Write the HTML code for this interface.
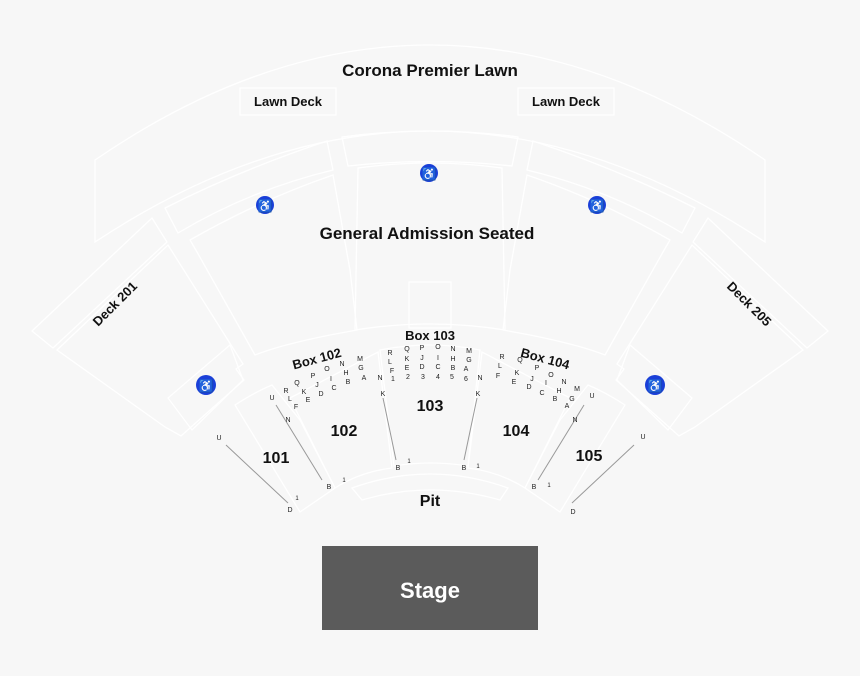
<!DOCTYPE html>
<html><head><meta charset="utf-8"><style>
html,body{margin:0;padding:0;background:#f7f7f7;}
svg{display:block;font-family:"Liberation Sans",sans-serif;}
.b{font-weight:bold;fill:#111;}
.s{font-size:7px;fill:#222;text-anchor:middle;}
.o{fill:none;stroke:#fff;stroke-width:1.3;}
</style></head><body>
<svg width="860" height="676" viewBox="0 0 860 676">
<rect width="860" height="676" fill="#f7f7f7"/>
<g class="o">
<path d="M95,160 Q430,-70 765,160 L765,242 Q430,20 95,242 Z"/>
<rect x="240" y="88" width="96" height="27"/>
<rect x="518" y="88" width="96" height="27"/>
<path d="M165,208 Q240,170 327,141 L333,170 Q250,190 178,233 Z"/>
<path d="M342,137 Q430,125 518,137 L512,166 Q430,157 348,166 Z"/>
<path d="M695,208 Q620,170 533,141 L527,170 Q610,190 682,233 Z"/>
<path d="M190,240 Q260,200 333,175 L350,270 L357,330 L330,335 Q280,345 255,355 L197,252 Z"/>
<path d="M358,168 Q430,158 502,168 L505,330 Q430,318 355,330 Z"/>
<path d="M670,240 Q600,200 527,175 L510,270 L503,330 L530,335 Q580,345 605,355 L663,252 Z"/>
<rect x="409" y="282" width="42" height="46"/>
<path d="M32,331 L152,218 L167,242 L53,348 Z"/>
<path d="M57,350 L168,245 L243,364 L236,369 L244,380 L181,436 L165,427 Z"/>
<path d="M828,331 L708,218 L693,242 L807,348 Z"/>
<path d="M803,350 L692,245 L617,364 L624,369 L616,380 L679,436 L695,427 Z"/>
<path d="M168,398 L230,345 L243,380 L192,430 Z"/>
<path d="M692,398 L630,345 L617,380 L668,430 Z"/>
<path d="M235,405 Q255,392 272,385 L300,420 L335,488 L300,512 Z"/>
<path d="M625,405 Q605,392 588,385 L560,420 L525,488 L560,512 Z"/>
<path d="M290,398 L378,352 L392,468 Q360,472 335,488 Z"/>
<path d="M570,398 L482,352 L468,468 Q500,472 525,488 Z"/>
<path d="M380,350 Q430,340 480,350 L468,466 Q430,460 394,466 Z"/>
<path d="M352,488 Q430,460 508,488 L500,500 Q430,480 362,500 Z"/>
</g>
<g stroke="#999" stroke-width="1">
<line x1="226" y1="445" x2="288" y2="503"/>
<line x1="634" y1="445" x2="572" y2="503"/>
<line x1="276" y1="405" x2="322" y2="480"/>
<line x1="584" y1="405" x2="538" y2="480"/>
<line x1="383" y1="398" x2="396" y2="460"/>
<line x1="477" y1="398" x2="464" y2="460"/>
</g>
<rect x="322" y="546" width="216" height="84" fill="#5b5b5b"/>
<text x="430" y="598" text-anchor="middle" font-size="22" font-weight="bold" fill="#fff">Stage</text>
<text class="b" x="430" y="76" text-anchor="middle" font-size="17">Corona Premier Lawn</text>
<text class="b" x="288" y="106" text-anchor="middle" font-size="13">Lawn Deck</text>
<text class="b" x="566" y="106" text-anchor="middle" font-size="13">Lawn Deck</text>
<text class="b" x="427" y="239" text-anchor="middle" font-size="17">General Admission Seated</text>
<text class="b" font-size="13" text-anchor="middle" transform="translate(118,307) rotate(-45)">Deck 201</text>
<text class="b" font-size="13" text-anchor="middle" transform="translate(746,307) rotate(45)">Deck 205</text>
<text class="b" font-size="13" text-anchor="middle" transform="translate(318,363) rotate(-15)">Box 102</text>
<text class="b" font-size="13" text-anchor="middle" x="430" y="340">Box 103</text>
<text class="b" font-size="13" text-anchor="middle" transform="translate(544,363) rotate(15)">Box 104</text>
<g class="b" font-size="16" text-anchor="middle">
<text x="276" y="463">101</text><text x="344" y="436">102</text><text x="430" y="411">103</text>
<text x="516" y="436">104</text><text x="589" y="461">105</text><text x="430" y="506">Pit</text>
</g>
<g fill="#1a3fd8">
<circle cx="265" cy="205" r="9"/><circle cx="429" cy="173" r="9"/><circle cx="597" cy="205" r="9"/>
<circle cx="206" cy="385" r="10"/><circle cx="655" cy="385" r="10"/>
</g>
<g fill="#fff" font-size="12" text-anchor="middle">
<text x="265" y="210">♿</text><text x="429" y="178">♿</text><text x="597" y="210">♿</text>
<text x="206" y="390">♿</text><text x="655" y="390">♿</text>
</g>
<g class="s" font-size="8">
<text x="219" y="440">U</text><text x="290" y="512">D</text><text x="297" y="500" font-size="6">1</text>
<text x="272" y="400">U</text><text x="288" y="422">N</text><text x="329" y="489">B</text><text x="344" y="482" font-size="6">1</text>
<text x="380" y="380">N</text><text x="383" y="396">K</text><text x="398" y="470">B</text><text x="409" y="463" font-size="6">1</text>
<text x="480" y="380">N</text><text x="478" y="396">K</text><text x="464" y="470">B</text><text x="478" y="468" font-size="6">1</text>
<text x="592" y="398">U</text><text x="575" y="422">N</text><text x="534" y="489">B</text><text x="549" y="487" font-size="6">1</text>
<text x="643" y="439">U</text><text x="573" y="514">D</text>
</g>
<g class="s">
<text x="390" y="355">R</text><text x="407" y="351">Q</text><text x="422" y="350">P</text><text x="438" y="349">O</text><text x="453" y="351">N</text><text x="469" y="353">M</text>
<text x="390" y="364">L</text><text x="407" y="361">K</text><text x="422" y="360">J</text><text x="438" y="360">I</text><text x="453" y="361">H</text><text x="469" y="362">G</text>
<text x="392" y="373">F</text><text x="407" y="370">E</text><text x="422" y="369">D</text><text x="438" y="369">C</text><text x="453" y="370">B</text><text x="466" y="371">A</text>
<text x="393" y="381">1</text><text x="408" y="379">2</text><text x="423" y="379">3</text><text x="438" y="379">4</text><text x="452" y="379">5</text><text x="466" y="381">6</text>
<text x="286" y="393">R</text><text x="297" y="385">Q</text><text x="313" y="378">P</text><text x="327" y="371">O</text><text x="342" y="366">N</text><text x="360" y="361">M</text>
<text x="290" y="401">L</text><text x="304" y="394">K</text><text x="317" y="387">J</text><text x="331" y="381">I</text><text x="346" y="375">H</text><text x="361" y="370">G</text>
<text x="296" y="409">F</text><text x="308" y="402">E</text><text x="321" y="396">D</text><text x="334" y="390">C</text><text x="348" y="384">B</text><text x="364" y="380">A</text>
<text x="502" y="359">R</text><text x="520" y="362">Q</text><text x="537" y="370">P</text><text x="551" y="377">O</text><text x="564" y="384">N</text><text x="577" y="391">M</text>
<text x="500" y="368">L</text><text x="517" y="375">K</text><text x="532" y="381">J</text><text x="546" y="385">I</text><text x="559" y="393">H</text><text x="572" y="401">G</text>
<text x="498" y="378">F</text><text x="514" y="384">E</text><text x="529" y="389">D</text><text x="542" y="395">C</text><text x="555" y="401">B</text><text x="567" y="408">A</text>
</g>
</svg>
</body></html>
